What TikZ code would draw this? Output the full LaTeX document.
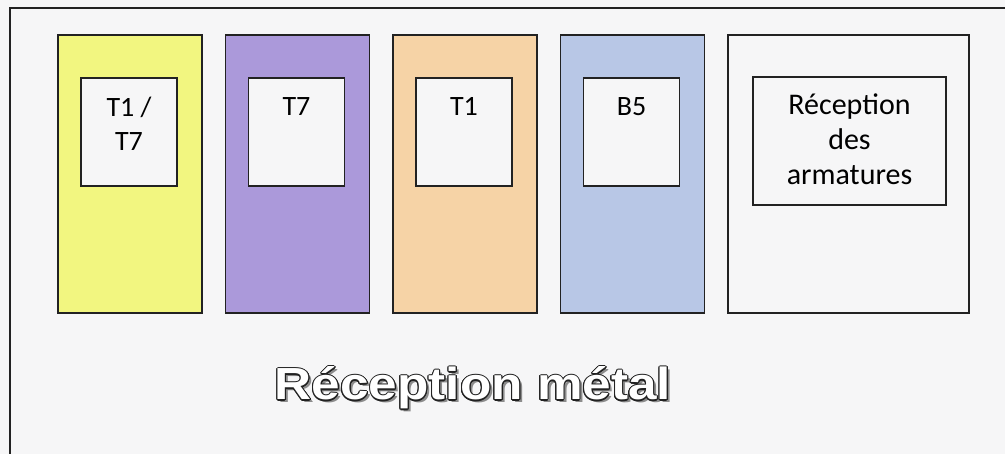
\documentclass[tikz,border=0pt]{standalone}
\usepackage{fontspec}
\setmainfont{Carlito}
\newfontfamily\titlefont[FakeStretch=1.14]{Liberation Sans Bold}
\usepackage[copies]{contour}
\contourlength{1pt}
\usetikzlibrary{positioning}
\definecolor{Paper}{RGB}{246, 246, 247}
\definecolor{Frame}{RGB}{34, 34, 34}
\definecolor{Lemon}{RGB}{242, 246, 128}
\definecolor{Lilac}{RGB}{171, 153, 218}
\definecolor{Peach}{RGB}{246, 211, 166}
\definecolor{Sky}{RGB}{184, 199, 230}
\definecolor{Shade}{RGB}{140, 140, 140}

\begin{document}
\begin{tikzpicture}[
    x=1pt, y=-1pt,
    node distance=23.5pt,
    column/.style={draw=Frame, line width=1.9pt, rectangle, minimum width=144pt, minimum height=278pt, inner sep=0pt, outer sep=0pt},
    slot/.style={draw=Frame, line width=1.9pt, fill=Paper, rectangle, minimum width=96pt, minimum height=108pt, inner sep=0pt, outer sep=0pt, anchor=north west},
    tag/.style={anchor=north, inner sep=0pt, align=center, font=\fontsize{28}{34}\selectfont},
    headline/.style={anchor=base, inner sep=0pt, font=\titlefont\fontsize{45}{45}\selectfont}
  ]
    \fill[Paper] (0,0) rectangle (1005,454);
    \useasboundingbox (0,0) rectangle (1005,454);
    \draw[Frame, line width=1.9pt] (10,8) rectangle (1030,480);

    \node[column, fill=Lemon, anchor=north west] (c1) at (58,35) {};
    \node[column, fill=Lilac, right=of c1] (c2) {};
    \node[column, fill=Peach, right=of c2] (c3) {};
    \node[column, fill=Sky, right=of c3] (c4) {};
    \node[column, fill=Paper, minimum width=241pt, right=of c4] (c5) {};

    \node[slot] (s1) at ([shift={(23,43)}]c1.north west) {};
    \node[slot] (s2) at ([shift={(23,43)}]c2.north west) {};
    \node[slot] (s3) at ([shift={(23,43)}]c3.north west) {};
    \node[slot] (s4) at ([shift={(23,43)}]c4.north west) {};
    \node[slot, minimum width=193pt, minimum height=128pt] (s5) at ([shift={(25,42)}]c5.north west) {};

    \node[tag] (t1) at ([yshift=-19pt]s1.north) {T1 /\\T7};
    \node[tag] (t2) at ([yshift=-19pt]s2.north) {T7};
    \node[tag] (t3) at ([yshift=-19pt]s3.north) {T1};
    \node[tag] (t4) at ([yshift=-19pt]s4.north) {B5};
    \node[tag, font=\fontsize{30}{35}\selectfont] (t5) at ([yshift=-17pt]s5.north) {Réception\\des\\armatures};

    \node[headline, text=Shade] (shadow) at (476,403) {Réception métal};
    \node[headline, text=white] (title) at (473,400) {\contour{Frame}{Réception métal}};
  \end{tikzpicture}
\end{document}
